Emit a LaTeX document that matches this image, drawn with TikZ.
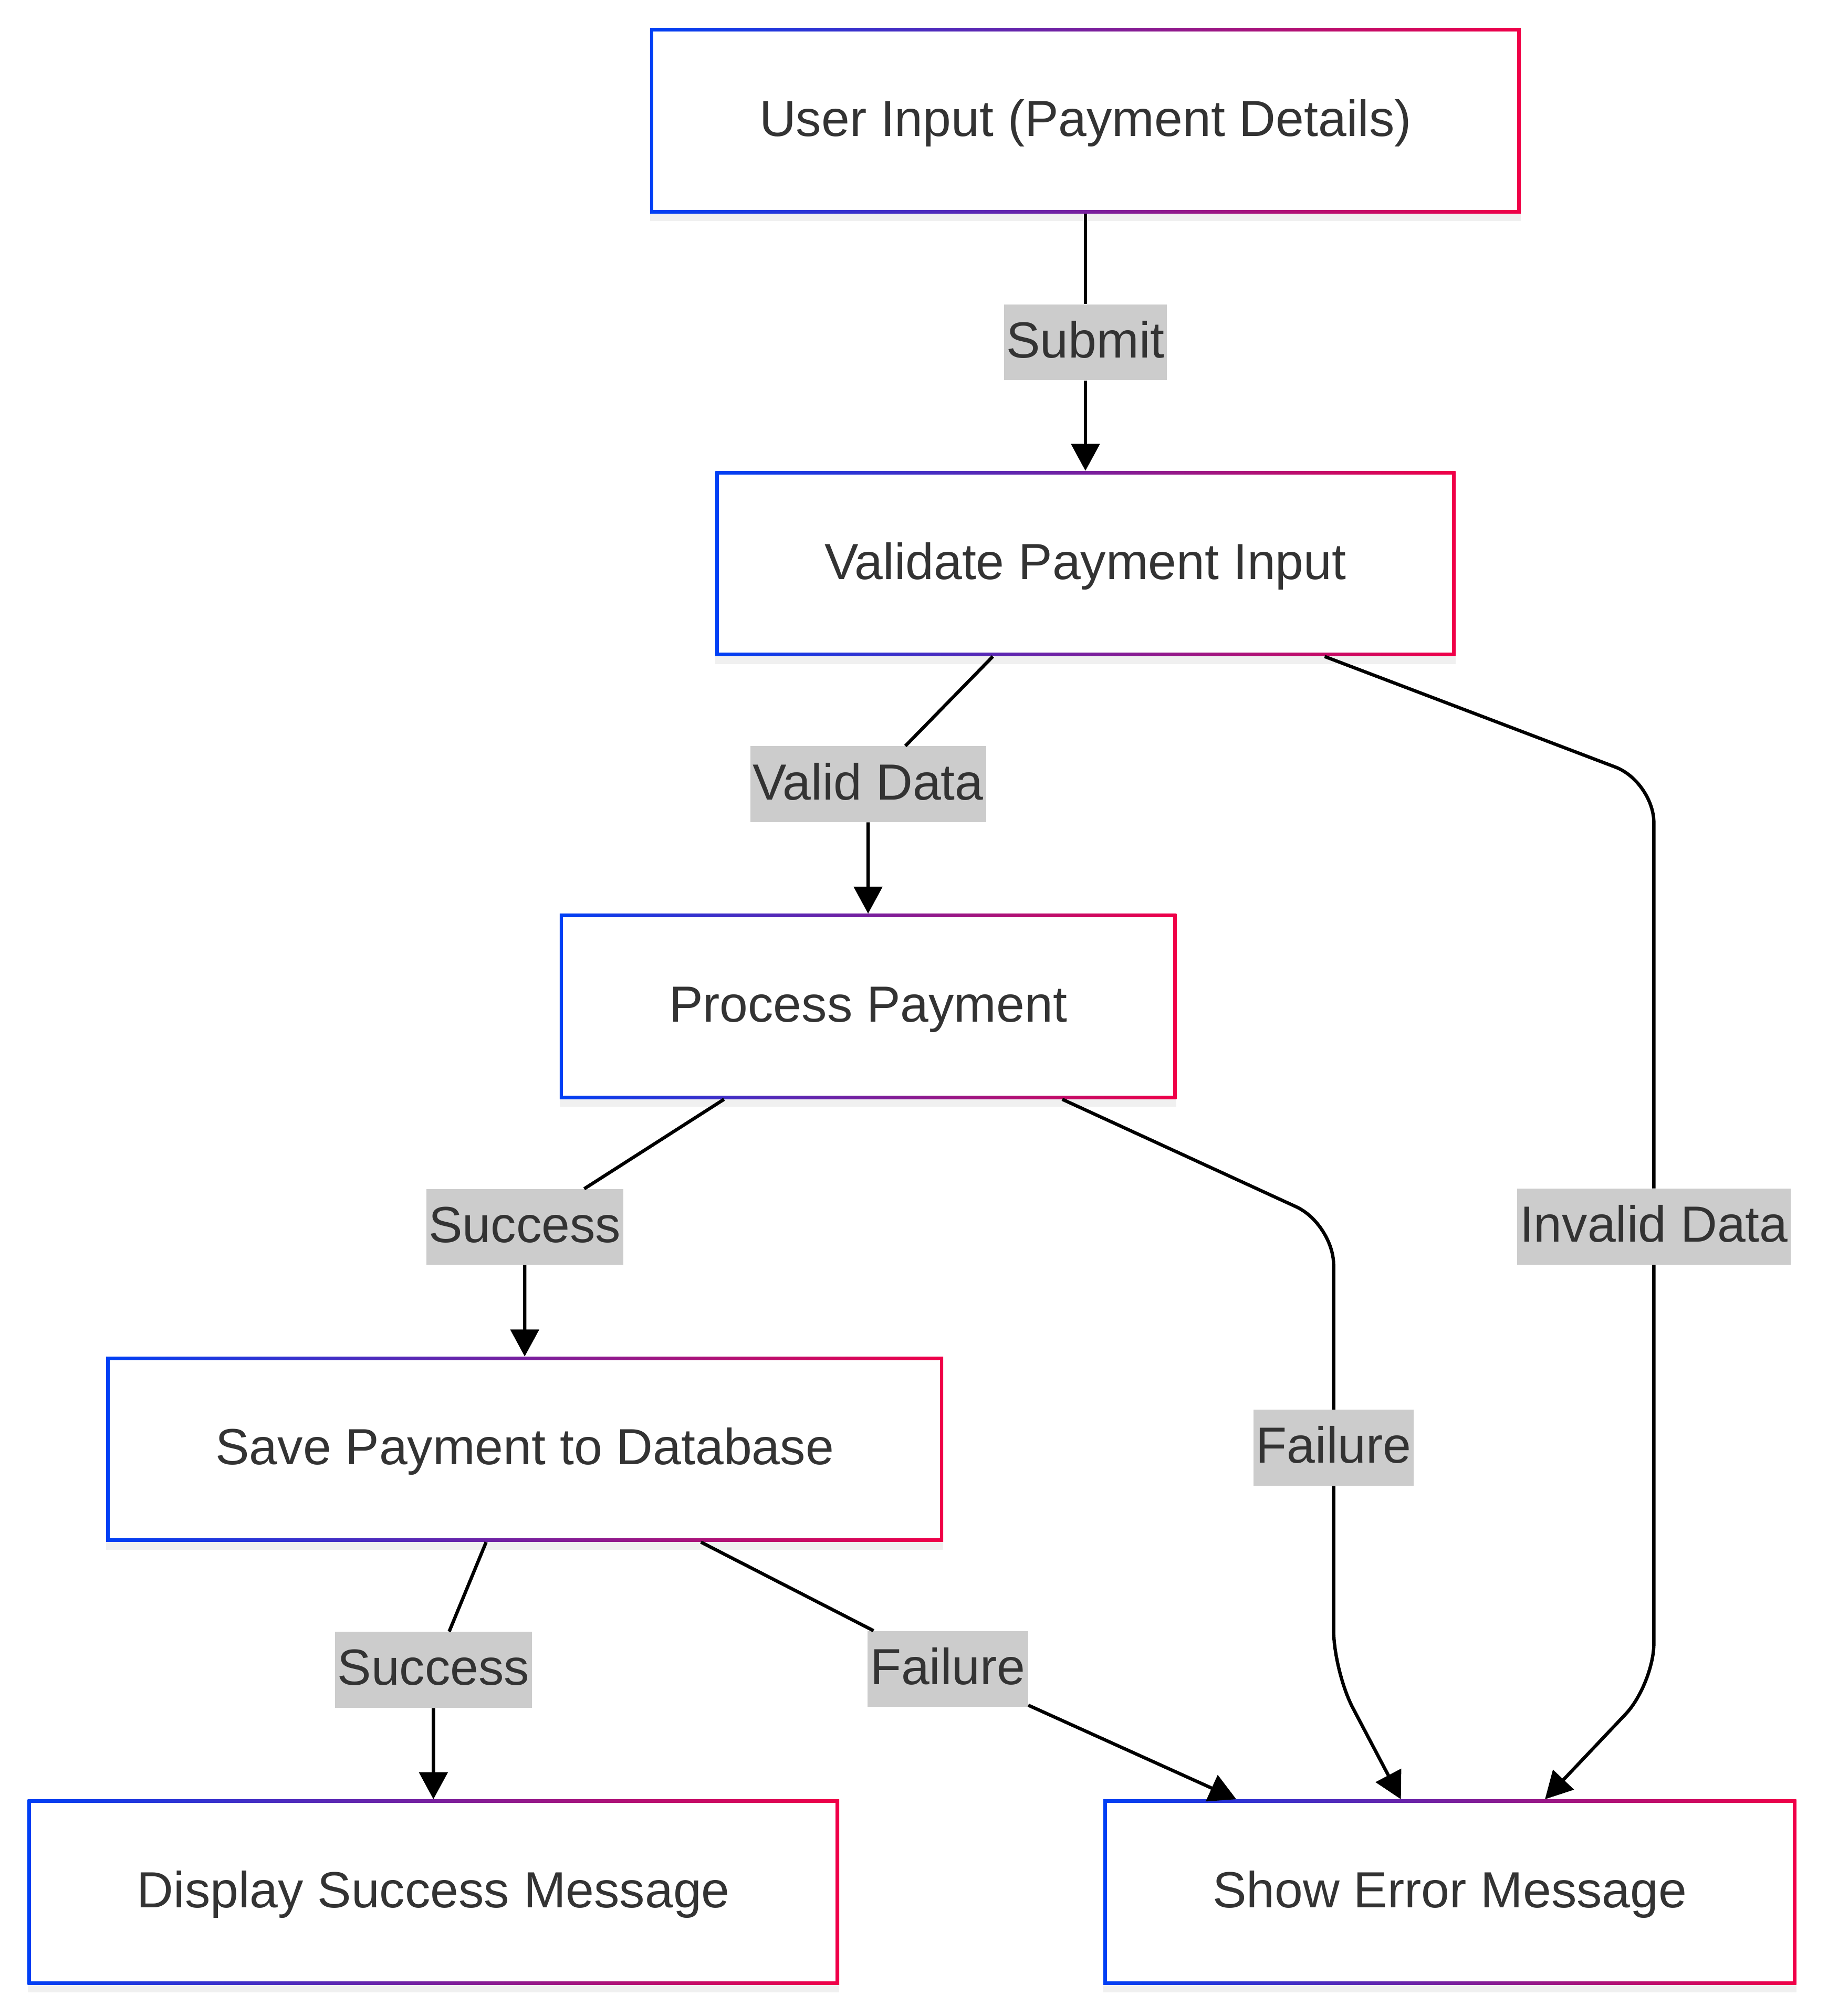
\documentclass[tikz,border=0pt]{standalone}
\usepackage{fontspec}
\setmainfont{Liberation Sans}
\usepackage{tikz}
\usetikzlibrary{arrows.meta,positioning,shadows,calc}
\definecolor{flowBlue}{RGB}{0,64,245}
\definecolor{flowRed}{RGB}{240,0,72}
\definecolor{textGray}{RGB}{51,51,51}
\definecolor{labelGray}{RGB}{204,204,204}
\newcommand{\flowfont}{\fontsize{39.5pt}{47pt}\selectfont}
\tikzset{
  flowbox/.style={rectangle, minimum height=144pt, inner xsep=85pt,
                  text height=31pt, text depth=7pt,
                  left color=flowBlue, right color=flowRed,
                  general shadow={shadow yshift=-6pt, fill=black, opacity=0.06},
                  path picture={\fill[white]
                    ([shift={(2.7pt,2.7pt)}]path picture bounding box.south west) rectangle
                    ([shift={(-2.7pt,-2.7pt)}]path picture bounding box.north east);},
                  font=\flowfont, text=textGray},
  edgelbl/.style={rectangle, fill=labelGray, inner xsep=2pt, inner ysep=10.5pt,
                  text height=31pt, text depth=7pt, font=\flowfont, text=textGray},
  arr/.style={-{Triangle[length=21pt, width=22pt]}, line width=2.6pt, black,
              rounded corners=32pt},
}

\begin{document}
\begin{tikzpicture}[node distance=200pt]
  \useasboundingbox[fill=white] (0,0) rectangle (1421pt,-1568pt);

  % steps of the payment flow
  \node[flowbox] (input) at (844pt,-94pt) {User Input (Payment Details)};
  \node[flowbox, below=of input] (validate) {Validate Payment Input};
  \node[flowbox, below=of validate, xshift=-169pt] (process) {Process Payment};
  \node[flowbox, below=of process, xshift=-267pt] (save) {Save Payment to Database};
  \node[flowbox, below=of save, xshift=-71pt] (display) {Display Success Message};
  \node[flowbox, right=205pt of display] (error) {Show Error Message};

  % edge labels
  \node[edgelbl] (lsubmit) at ($(input.south)!0.5!(validate.north)$) {Submit};
  \node[edgelbl, above=71pt of process] (lvalid) {Valid Data};
  \node[edgelbl, above=71pt of save] (lsuccA) {Success};
  \node[edgelbl, above=71pt of display] (lsuccB) {Success};
  \node[edgelbl] (linvalid) at (1286pt,-954pt) {Invalid Data};
  \node[edgelbl] (lfailA) at (1037pt,-1126pt) {Failure};
  \node[edgelbl] (lfailB) at (737pt,-1298pt) {Failure};

  \coordinate (cinvA) at (1286pt,-608pt);
  \coordinate (cinvB) at (1286pt,-1310pt);
  \coordinate (cfailA) at (1037pt,-952pt);
  \coordinate (cfailB) at (1037pt,-1300pt);

  \draw[arr] (input) -- (lsubmit) -- (validate);
  \draw[arr] ([xshift=-72pt]validate.south) -- (lvalid) -- (process);
  \draw[arr] ([xshift=186pt]validate.south) -- (cinvA) -- (linvalid)
             -- (cinvB) -- ([xshift=74pt]error.north);
  \draw[arr] ([xshift=-112pt]process.south) -- (lsuccA) -- (save);
  \draw[arr] ([xshift=151pt]process.south) -- (cfailA) -- (lfailA)
             -- (cfailB) -- ([xshift=-38pt]error.north);
  \draw[arr] ([xshift=-30pt]save.south) -- (lsuccB) -- (display);
  \draw[arr] ([xshift=137pt]save.south) -- (lfailB) -- ([xshift=-166pt]error.north);
\end{tikzpicture}
\end{document}
